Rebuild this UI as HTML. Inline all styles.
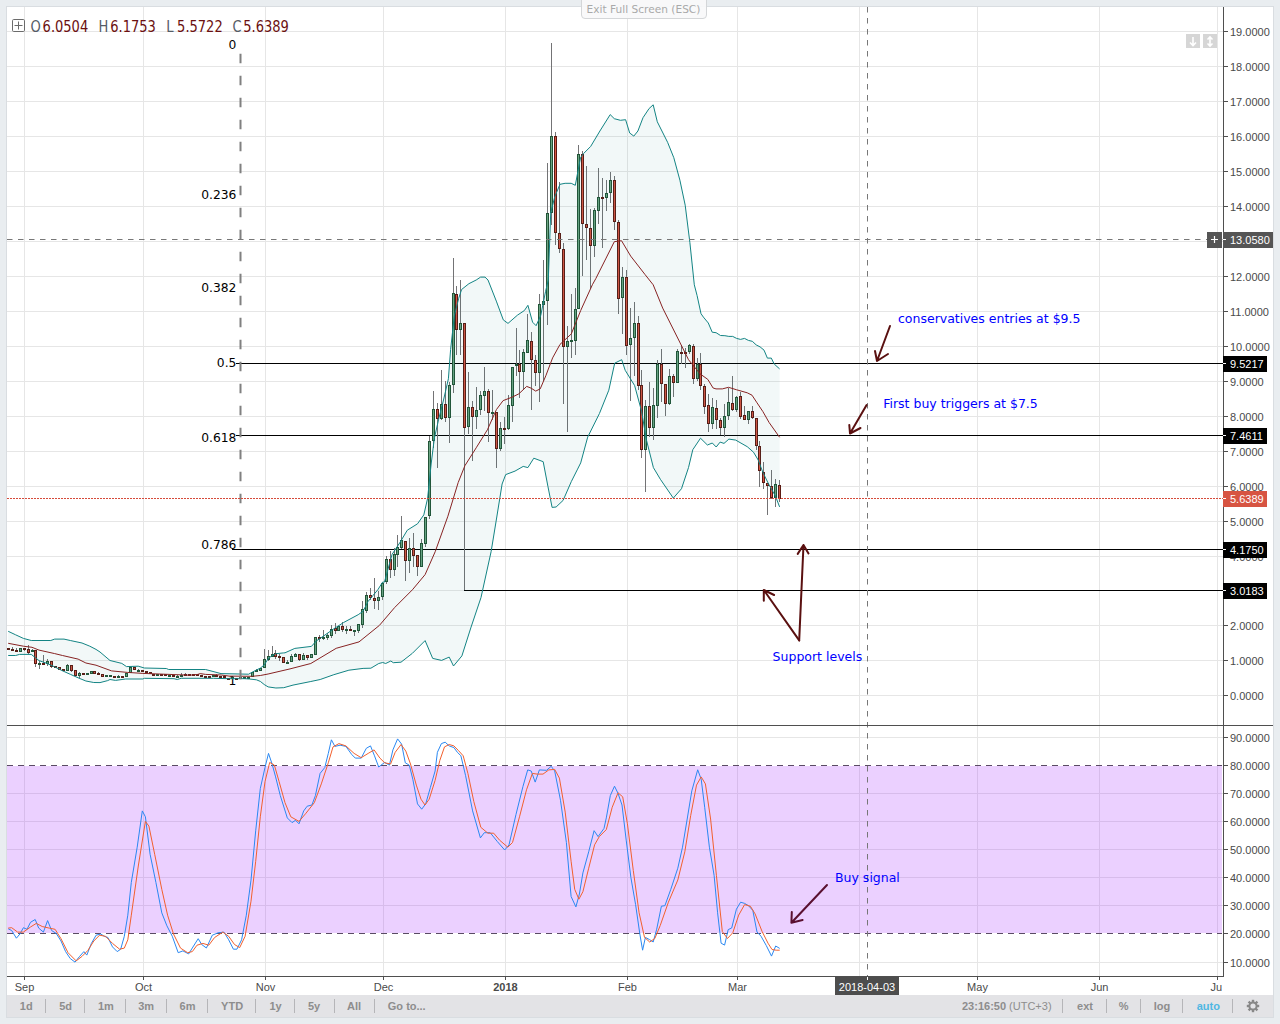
<!DOCTYPE html>
<html><head><meta charset="utf-8"><title>Chart</title>
<style>html,body{margin:0;padding:0;width:1280px;height:1024px;overflow:hidden;background:#e9edf0}</style>
</head><body>
<svg width="1280" height="1024" viewBox="0 0 1280 1024" style="position:absolute;left:0;top:0">
<rect x="0" y="0" width="1280" height="1024" fill="#e9edf0"/>
<rect x="6" y="6" width="1268" height="1012" fill="#d9dde1"/>
<rect x="7" y="7" width="1266" height="988" fill="#ffffff"/>
<rect x="7" y="995" width="1266" height="22" fill="#e3e3e6"/>
<rect x="7" y="31" width="1216" height="1" fill="#e6e6e6"/><rect x="7" y="66" width="1216" height="1" fill="#e6e6e6"/><rect x="7" y="101" width="1216" height="1" fill="#e6e6e6"/><rect x="7" y="136" width="1216" height="1" fill="#e6e6e6"/><rect x="7" y="171" width="1216" height="1" fill="#e6e6e6"/><rect x="7" y="206" width="1216" height="1" fill="#e6e6e6"/><rect x="7" y="241" width="1216" height="1" fill="#e6e6e6"/><rect x="7" y="276" width="1216" height="1" fill="#e6e6e6"/><rect x="7" y="311" width="1216" height="1" fill="#e6e6e6"/><rect x="7" y="346" width="1216" height="1" fill="#e6e6e6"/><rect x="7" y="381" width="1216" height="1" fill="#e6e6e6"/><rect x="7" y="416" width="1216" height="1" fill="#e6e6e6"/><rect x="7" y="451" width="1216" height="1" fill="#e6e6e6"/><rect x="7" y="486" width="1216" height="1" fill="#e6e6e6"/><rect x="7" y="521" width="1216" height="1" fill="#e6e6e6"/><rect x="7" y="556" width="1216" height="1" fill="#e6e6e6"/><rect x="7" y="590" width="1216" height="1" fill="#e6e6e6"/><rect x="7" y="625" width="1216" height="1" fill="#e6e6e6"/><rect x="7" y="660" width="1216" height="1" fill="#e6e6e6"/><rect x="7" y="695" width="1216" height="1" fill="#e6e6e6"/><rect x="7" y="737" width="1216" height="1" fill="#e6e6e6"/><rect x="7" y="793" width="1216" height="1" fill="#e6e6e6"/><rect x="7" y="821" width="1216" height="1" fill="#e6e6e6"/><rect x="7" y="849" width="1216" height="1" fill="#e6e6e6"/><rect x="7" y="877" width="1216" height="1" fill="#e6e6e6"/><rect x="7" y="905" width="1216" height="1" fill="#e6e6e6"/><rect x="7" y="962" width="1216" height="1" fill="#e6e6e6"/><rect x="24" y="7" width="1" height="718" fill="#e6e6e6"/><rect x="24" y="726" width="1" height="250" fill="#e6e6e6"/><rect x="143" y="7" width="1" height="718" fill="#e6e6e6"/><rect x="143" y="726" width="1" height="250" fill="#e6e6e6"/><rect x="265" y="7" width="1" height="718" fill="#e6e6e6"/><rect x="265" y="726" width="1" height="250" fill="#e6e6e6"/><rect x="383" y="7" width="1" height="718" fill="#e6e6e6"/><rect x="383" y="726" width="1" height="250" fill="#e6e6e6"/><rect x="505" y="7" width="1" height="718" fill="#e6e6e6"/><rect x="505" y="726" width="1" height="250" fill="#e6e6e6"/><rect x="627" y="7" width="1" height="718" fill="#e6e6e6"/><rect x="627" y="726" width="1" height="250" fill="#e6e6e6"/><rect x="737" y="7" width="1" height="718" fill="#e6e6e6"/><rect x="737" y="726" width="1" height="250" fill="#e6e6e6"/><rect x="859" y="7" width="1" height="718" fill="#e6e6e6"/><rect x="859" y="726" width="1" height="250" fill="#e6e6e6"/><rect x="977" y="7" width="1" height="718" fill="#e6e6e6"/><rect x="977" y="726" width="1" height="250" fill="#e6e6e6"/><rect x="1099" y="7" width="1" height="718" fill="#e6e6e6"/><rect x="1099" y="726" width="1" height="250" fill="#e6e6e6"/><rect x="1217" y="7" width="1" height="718" fill="#e6e6e6"/><rect x="1217" y="726" width="1" height="250" fill="#e6e6e6"/>
<rect x="7" y="766" width="1215" height="167" fill="rgb(153,21,255)" fill-opacity="0.2"/>
<line x1="7" y1="765.5" x2="1222" y2="765.5" stroke="#5a4b64" stroke-width="1" stroke-dasharray="6 5"/>
<line x1="7" y1="933.5" x2="1222" y2="933.5" stroke="#5a4b64" stroke-width="1" stroke-dasharray="6 5"/>
<text x="236.4" y="49" text-anchor="end" font-family="DejaVu Sans, Verdana, sans-serif" font-size="12.3" fill="#000">0</text>
<text x="236.4" y="199.1" text-anchor="end" font-family="DejaVu Sans, Verdana, sans-serif" font-size="12.3" fill="#000">0.236</text>
<text x="236.4" y="291.95" text-anchor="end" font-family="DejaVu Sans, Verdana, sans-serif" font-size="12.3" fill="#000">0.382</text>
<text x="236.4" y="367" text-anchor="end" font-family="DejaVu Sans, Verdana, sans-serif" font-size="12.3" fill="#000">0.5</text>
<text x="236.4" y="442.05" text-anchor="end" font-family="DejaVu Sans, Verdana, sans-serif" font-size="12.3" fill="#000">0.618</text>
<text x="236.4" y="548.9" text-anchor="end" font-family="DejaVu Sans, Verdana, sans-serif" font-size="12.3" fill="#000">0.786</text>
<text x="236.4" y="685" text-anchor="end" font-family="DejaVu Sans, Verdana, sans-serif" font-size="12.3" fill="#000">1</text>
<g shape-rendering="crispEdges">
<rect x="236" y="363" width="987" height="1" fill="#000"/>
<rect x="236" y="435" width="987" height="1" fill="#000"/>
<rect x="232" y="549" width="991" height="1" fill="#000"/>
<rect x="464" y="590" width="759" height="1" fill="#000"/>
</g>
<g shape-rendering="crispEdges"><rect x="8" y="648" width="1" height="2" fill="#737375"/><rect x="7" y="648" width="3" height="2" fill="#5b1a13"/><rect x="12" y="647" width="1" height="3" fill="#737375"/><rect x="11" y="649" width="3" height="2" fill="#5b1a13"/><rect x="16" y="648" width="1" height="4" fill="#737375"/><rect x="15" y="650" width="3" height="2" fill="#5b1a13"/><rect x="20" y="648" width="1" height="4" fill="#737375"/><rect x="19" y="648" width="3" height="4" fill="#225437"/><rect x="20" y="649" width="1" height="2" fill="#6ba583"/><rect x="24" y="648" width="1" height="3" fill="#737375"/><rect x="23" y="648" width="3" height="2" fill="#5b1a13"/><rect x="28" y="645" width="1" height="9" fill="#737375"/><rect x="27" y="649" width="3" height="4" fill="#5b1a13"/><rect x="28" y="650" width="1" height="2" fill="#d75442"/><rect x="32" y="649" width="1" height="3" fill="#737375"/><rect x="31" y="650" width="3" height="2" fill="#225437"/><rect x="35" y="650" width="1" height="17" fill="#737375"/><rect x="34" y="650" width="3" height="14" fill="#5b1a13"/><rect x="35" y="651" width="1" height="12" fill="#d75442"/><rect x="39" y="661" width="1" height="8" fill="#737375"/><rect x="38" y="663" width="3" height="2" fill="#225437"/><rect x="43" y="655" width="1" height="9" fill="#737375"/><rect x="42" y="663" width="3" height="2" fill="#5b1a13"/><rect x="47" y="659" width="1" height="7" fill="#737375"/><rect x="46" y="661" width="3" height="3" fill="#225437"/><rect x="47" y="662" width="1" height="1" fill="#6ba583"/><rect x="51" y="661" width="1" height="7" fill="#737375"/><rect x="50" y="661" width="3" height="6" fill="#5b1a13"/><rect x="51" y="662" width="1" height="4" fill="#d75442"/><rect x="55" y="666" width="1" height="2" fill="#737375"/><rect x="54" y="666" width="3" height="2" fill="#5b1a13"/><rect x="59" y="667" width="1" height="3" fill="#737375"/><rect x="58" y="667" width="3" height="3" fill="#5b1a13"/><rect x="59" y="668" width="1" height="1" fill="#d75442"/><rect x="63" y="669" width="1" height="2" fill="#737375"/><rect x="62" y="669" width="3" height="2" fill="#5b1a13"/><rect x="67" y="664" width="1" height="7" fill="#737375"/><rect x="66" y="665" width="3" height="6" fill="#225437"/><rect x="67" y="666" width="1" height="4" fill="#6ba583"/><rect x="71" y="665" width="1" height="7" fill="#737375"/><rect x="70" y="665" width="3" height="6" fill="#5b1a13"/><rect x="71" y="666" width="1" height="4" fill="#d75442"/><rect x="75" y="670" width="1" height="6" fill="#737375"/><rect x="74" y="670" width="3" height="6" fill="#5b1a13"/><rect x="75" y="671" width="1" height="4" fill="#d75442"/><rect x="79" y="672" width="1" height="6" fill="#737375"/><rect x="78" y="673" width="3" height="3" fill="#225437"/><rect x="79" y="674" width="1" height="1" fill="#6ba583"/><rect x="83" y="673" width="1" height="1" fill="#737375"/><rect x="82" y="673" width="3" height="2" fill="#5b1a13"/><rect x="87" y="673" width="1" height="1" fill="#737375"/><rect x="86" y="673" width="3" height="2" fill="#225437"/><rect x="91" y="671" width="1" height="3" fill="#737375"/><rect x="90" y="671" width="3" height="3" fill="#225437"/><rect x="91" y="672" width="1" height="1" fill="#6ba583"/><rect x="94" y="671" width="1" height="3" fill="#737375"/><rect x="93" y="671" width="3" height="3" fill="#5b1a13"/><rect x="94" y="672" width="1" height="1" fill="#d75442"/><rect x="98" y="672" width="1" height="3" fill="#737375"/><rect x="97" y="673" width="3" height="2" fill="#5b1a13"/><rect x="102" y="674" width="1" height="3" fill="#737375"/><rect x="101" y="674" width="3" height="3" fill="#5b1a13"/><rect x="102" y="675" width="1" height="1" fill="#d75442"/><rect x="106" y="675" width="1" height="2" fill="#737375"/><rect x="105" y="675" width="3" height="2" fill="#225437"/><rect x="110" y="675" width="1" height="1" fill="#737375"/><rect x="109" y="675" width="3" height="2" fill="#225437"/><rect x="114" y="676" width="1" height="1" fill="#737375"/><rect x="113" y="676" width="3" height="2" fill="#5b1a13"/><rect x="118" y="675" width="1" height="2" fill="#737375"/><rect x="117" y="676" width="3" height="2" fill="#225437"/><rect x="122" y="676" width="1" height="1" fill="#737375"/><rect x="121" y="676" width="3" height="2" fill="#5b1a13"/><rect x="126" y="673" width="1" height="4" fill="#737375"/><rect x="125" y="673" width="3" height="4" fill="#225437"/><rect x="126" y="674" width="1" height="2" fill="#6ba583"/><rect x="130" y="667" width="1" height="6" fill="#737375"/><rect x="129" y="667" width="3" height="6" fill="#225437"/><rect x="130" y="668" width="1" height="4" fill="#6ba583"/><rect x="134" y="667" width="1" height="3" fill="#737375"/><rect x="133" y="667" width="3" height="3" fill="#5b1a13"/><rect x="134" y="668" width="1" height="1" fill="#d75442"/><rect x="138" y="669" width="1" height="1" fill="#737375"/><rect x="137" y="670" width="3" height="2" fill="#225437"/><rect x="142" y="670" width="1" height="1" fill="#737375"/><rect x="141" y="670" width="3" height="2" fill="#5b1a13"/><rect x="146" y="671" width="1" height="2" fill="#737375"/><rect x="145" y="671" width="3" height="2" fill="#5b1a13"/><rect x="150" y="672" width="1" height="1" fill="#737375"/><rect x="149" y="672" width="3" height="2" fill="#5b1a13"/><rect x="152" y="674" width="3" height="2" fill="#5b1a13"/><rect x="156" y="674" width="3" height="2" fill="#225437"/><rect x="160" y="674" width="3" height="2" fill="#5b1a13"/><rect x="165" y="674" width="1" height="2" fill="#737375"/><rect x="164" y="674" width="3" height="2" fill="#5b1a13"/><rect x="169" y="675" width="1" height="1" fill="#737375"/><rect x="168" y="675" width="3" height="2" fill="#225437"/><rect x="173" y="675" width="1" height="2" fill="#737375"/><rect x="172" y="675" width="3" height="2" fill="#5b1a13"/><rect x="177" y="675" width="1" height="2" fill="#737375"/><rect x="176" y="676" width="3" height="2" fill="#225437"/><rect x="181" y="673" width="1" height="4" fill="#737375"/><rect x="180" y="675" width="3" height="2" fill="#225437"/><rect x="185" y="673" width="1" height="2" fill="#737375"/><rect x="184" y="674" width="3" height="2" fill="#5b1a13"/><rect x="189" y="674" width="1" height="2" fill="#737375"/><rect x="188" y="674" width="3" height="2" fill="#5b1a13"/><rect x="193" y="674" width="1" height="2" fill="#737375"/><rect x="192" y="674" width="3" height="2" fill="#5b1a13"/><rect x="197" y="674" width="1" height="2" fill="#737375"/><rect x="196" y="674" width="3" height="2" fill="#5b1a13"/><rect x="201" y="675" width="1" height="2" fill="#737375"/><rect x="200" y="675" width="3" height="2" fill="#5b1a13"/><rect x="205" y="676" width="1" height="1" fill="#737375"/><rect x="204" y="676" width="3" height="2" fill="#5b1a13"/><rect x="209" y="676" width="1" height="1" fill="#737375"/><rect x="208" y="676" width="3" height="2" fill="#5b1a13"/><rect x="213" y="675" width="1" height="2" fill="#737375"/><rect x="212" y="675" width="3" height="2" fill="#225437"/><rect x="216" y="674" width="1" height="3" fill="#737375"/><rect x="215" y="675" width="3" height="2" fill="#5b1a13"/><rect x="220" y="676" width="1" height="1" fill="#737375"/><rect x="219" y="676" width="3" height="2" fill="#5b1a13"/><rect x="224" y="676" width="1" height="1" fill="#737375"/><rect x="223" y="676" width="3" height="2" fill="#5b1a13"/><rect x="227" y="678" width="3" height="2" fill="#5b1a13"/><rect x="232" y="677" width="1" height="1" fill="#737375"/><rect x="231" y="677" width="3" height="2" fill="#225437"/><rect x="235" y="678" width="3" height="2" fill="#5b1a13"/><rect x="240" y="677" width="1" height="1" fill="#737375"/><rect x="239" y="677" width="3" height="2" fill="#225437"/><rect x="244" y="677" width="1" height="1" fill="#737375"/><rect x="243" y="677" width="3" height="2" fill="#225437"/><rect x="248" y="677" width="1" height="1" fill="#737375"/><rect x="247" y="677" width="3" height="2" fill="#225437"/><rect x="252" y="672" width="1" height="5" fill="#737375"/><rect x="251" y="672" width="3" height="5" fill="#225437"/><rect x="252" y="673" width="1" height="3" fill="#6ba583"/><rect x="256" y="669" width="1" height="3" fill="#737375"/><rect x="255" y="670" width="3" height="2" fill="#225437"/><rect x="260" y="668" width="1" height="3" fill="#737375"/><rect x="259" y="668" width="3" height="3" fill="#225437"/><rect x="260" y="669" width="1" height="1" fill="#6ba583"/><rect x="264" y="649" width="1" height="19" fill="#737375"/><rect x="263" y="659" width="3" height="9" fill="#225437"/><rect x="264" y="660" width="1" height="7" fill="#6ba583"/><rect x="268" y="650" width="1" height="11" fill="#737375"/><rect x="267" y="656" width="3" height="4" fill="#225437"/><rect x="268" y="657" width="1" height="2" fill="#6ba583"/><rect x="272" y="646" width="1" height="11" fill="#737375"/><rect x="271" y="654" width="3" height="3" fill="#225437"/><rect x="272" y="655" width="1" height="1" fill="#6ba583"/><rect x="275" y="650" width="1" height="9" fill="#737375"/><rect x="274" y="653" width="3" height="4" fill="#5b1a13"/><rect x="275" y="654" width="1" height="2" fill="#d75442"/><rect x="279" y="654" width="1" height="7" fill="#737375"/><rect x="278" y="656" width="3" height="2" fill="#5b1a13"/><rect x="283" y="657" width="1" height="6" fill="#737375"/><rect x="282" y="657" width="3" height="6" fill="#5b1a13"/><rect x="283" y="658" width="1" height="4" fill="#d75442"/><rect x="287" y="660" width="1" height="4" fill="#737375"/><rect x="286" y="662" width="3" height="2" fill="#225437"/><rect x="291" y="654" width="1" height="8" fill="#737375"/><rect x="290" y="656" width="3" height="6" fill="#225437"/><rect x="291" y="657" width="1" height="4" fill="#6ba583"/><rect x="295" y="653" width="1" height="4" fill="#737375"/><rect x="294" y="654" width="3" height="3" fill="#225437"/><rect x="295" y="655" width="1" height="1" fill="#6ba583"/><rect x="299" y="654" width="1" height="7" fill="#737375"/><rect x="298" y="654" width="3" height="6" fill="#5b1a13"/><rect x="299" y="655" width="1" height="4" fill="#d75442"/><rect x="303" y="653" width="1" height="7" fill="#737375"/><rect x="302" y="655" width="3" height="5" fill="#225437"/><rect x="303" y="656" width="1" height="3" fill="#6ba583"/><rect x="307" y="655" width="1" height="5" fill="#737375"/><rect x="306" y="655" width="3" height="3" fill="#5b1a13"/><rect x="307" y="656" width="1" height="1" fill="#d75442"/><rect x="311" y="654" width="1" height="4" fill="#737375"/><rect x="310" y="654" width="3" height="4" fill="#225437"/><rect x="311" y="655" width="1" height="2" fill="#6ba583"/><rect x="315" y="637" width="1" height="18" fill="#737375"/><rect x="314" y="637" width="3" height="18" fill="#225437"/><rect x="315" y="638" width="1" height="16" fill="#6ba583"/><rect x="319" y="635" width="1" height="7" fill="#737375"/><rect x="318" y="637" width="3" height="2" fill="#5b1a13"/><rect x="323" y="630" width="1" height="10" fill="#737375"/><rect x="322" y="637" width="3" height="2" fill="#225437"/><rect x="327" y="633" width="1" height="7" fill="#737375"/><rect x="326" y="635" width="3" height="3" fill="#225437"/><rect x="327" y="636" width="1" height="1" fill="#6ba583"/><rect x="331" y="625" width="1" height="13" fill="#737375"/><rect x="330" y="629" width="3" height="7" fill="#225437"/><rect x="331" y="630" width="1" height="5" fill="#6ba583"/><rect x="335" y="623" width="1" height="11" fill="#737375"/><rect x="334" y="628" width="3" height="3" fill="#5b1a13"/><rect x="335" y="629" width="1" height="1" fill="#d75442"/><rect x="338" y="626" width="1" height="5" fill="#737375"/><rect x="337" y="626" width="3" height="5" fill="#225437"/><rect x="338" y="627" width="1" height="3" fill="#6ba583"/><rect x="342" y="622" width="1" height="10" fill="#737375"/><rect x="341" y="626" width="3" height="4" fill="#5b1a13"/><rect x="342" y="627" width="1" height="2" fill="#d75442"/><rect x="346" y="626" width="1" height="8" fill="#737375"/><rect x="345" y="629" width="3" height="2" fill="#225437"/><rect x="350" y="626" width="1" height="5" fill="#737375"/><rect x="349" y="629" width="3" height="2" fill="#5b1a13"/><rect x="354" y="630" width="1" height="6" fill="#737375"/><rect x="353" y="630" width="3" height="2" fill="#225437"/><rect x="358" y="624" width="1" height="9" fill="#737375"/><rect x="357" y="624" width="3" height="7" fill="#225437"/><rect x="358" y="625" width="1" height="5" fill="#6ba583"/><rect x="362" y="601" width="1" height="27" fill="#737375"/><rect x="361" y="609" width="3" height="16" fill="#225437"/><rect x="362" y="610" width="1" height="14" fill="#6ba583"/><rect x="366" y="592" width="1" height="21" fill="#737375"/><rect x="365" y="595" width="3" height="16" fill="#225437"/><rect x="366" y="596" width="1" height="14" fill="#6ba583"/><rect x="370" y="588" width="1" height="12" fill="#737375"/><rect x="369" y="595" width="3" height="3" fill="#5b1a13"/><rect x="370" y="596" width="1" height="1" fill="#d75442"/><rect x="374" y="578" width="1" height="31" fill="#737375"/><rect x="373" y="598" width="3" height="3" fill="#5b1a13"/><rect x="374" y="599" width="1" height="1" fill="#d75442"/><rect x="378" y="591" width="1" height="19" fill="#737375"/><rect x="377" y="597" width="3" height="4" fill="#225437"/><rect x="378" y="598" width="1" height="2" fill="#6ba583"/><rect x="382" y="583" width="1" height="17" fill="#737375"/><rect x="381" y="583" width="3" height="14" fill="#225437"/><rect x="382" y="584" width="1" height="12" fill="#6ba583"/><rect x="386" y="556" width="1" height="28" fill="#737375"/><rect x="385" y="559" width="3" height="23" fill="#225437"/><rect x="386" y="560" width="1" height="21" fill="#6ba583"/><rect x="390" y="551" width="1" height="27" fill="#737375"/><rect x="389" y="559" width="3" height="11" fill="#5b1a13"/><rect x="390" y="560" width="1" height="9" fill="#d75442"/><rect x="394" y="548" width="1" height="28" fill="#737375"/><rect x="393" y="554" width="3" height="16" fill="#225437"/><rect x="394" y="555" width="1" height="14" fill="#6ba583"/><rect x="397" y="535" width="1" height="32" fill="#737375"/><rect x="396" y="547" width="3" height="8" fill="#225437"/><rect x="397" y="548" width="1" height="6" fill="#6ba583"/><rect x="401" y="516" width="1" height="33" fill="#737375"/><rect x="400" y="540" width="3" height="8" fill="#225437"/><rect x="401" y="541" width="1" height="6" fill="#6ba583"/><rect x="405" y="541" width="1" height="40" fill="#737375"/><rect x="404" y="541" width="3" height="20" fill="#5b1a13"/><rect x="405" y="542" width="1" height="18" fill="#d75442"/><rect x="409" y="538" width="1" height="35" fill="#737375"/><rect x="408" y="548" width="3" height="13" fill="#225437"/><rect x="409" y="549" width="1" height="11" fill="#6ba583"/><rect x="413" y="533" width="1" height="34" fill="#737375"/><rect x="412" y="548" width="3" height="8" fill="#5b1a13"/><rect x="413" y="549" width="1" height="6" fill="#d75442"/><rect x="417" y="555" width="1" height="21" fill="#737375"/><rect x="416" y="555" width="3" height="12" fill="#5b1a13"/><rect x="417" y="556" width="1" height="10" fill="#d75442"/><rect x="421" y="539" width="1" height="28" fill="#737375"/><rect x="420" y="543" width="3" height="24" fill="#225437"/><rect x="421" y="544" width="1" height="22" fill="#6ba583"/><rect x="425" y="517" width="1" height="30" fill="#737375"/><rect x="424" y="517" width="3" height="27" fill="#225437"/><rect x="425" y="518" width="1" height="25" fill="#6ba583"/><rect x="429" y="436" width="1" height="83" fill="#737375"/><rect x="428" y="441" width="3" height="75" fill="#225437"/><rect x="429" y="442" width="1" height="73" fill="#6ba583"/><rect x="433" y="391" width="1" height="57" fill="#737375"/><rect x="432" y="409" width="3" height="32" fill="#225437"/><rect x="433" y="410" width="1" height="30" fill="#6ba583"/><rect x="437" y="403" width="1" height="65" fill="#737375"/><rect x="436" y="409" width="3" height="10" fill="#5b1a13"/><rect x="437" y="410" width="1" height="8" fill="#d75442"/><rect x="441" y="370" width="1" height="50" fill="#737375"/><rect x="440" y="404" width="3" height="15" fill="#225437"/><rect x="441" y="405" width="1" height="13" fill="#6ba583"/><rect x="445" y="381" width="1" height="41" fill="#737375"/><rect x="444" y="404" width="3" height="14" fill="#5b1a13"/><rect x="445" y="405" width="1" height="12" fill="#d75442"/><rect x="449" y="382" width="1" height="61" fill="#737375"/><rect x="448" y="385" width="3" height="33" fill="#225437"/><rect x="449" y="386" width="1" height="31" fill="#6ba583"/><rect x="453" y="258" width="1" height="135" fill="#737375"/><rect x="452" y="293" width="3" height="92" fill="#225437"/><rect x="453" y="294" width="1" height="90" fill="#6ba583"/><rect x="456" y="286" width="1" height="69" fill="#737375"/><rect x="455" y="294" width="3" height="36" fill="#5b1a13"/><rect x="456" y="295" width="1" height="34" fill="#d75442"/><rect x="460" y="280" width="1" height="75" fill="#737375"/><rect x="459" y="323" width="3" height="7" fill="#225437"/><rect x="460" y="324" width="1" height="5" fill="#6ba583"/><rect x="464" y="323" width="1" height="267" fill="#737375"/><rect x="463" y="323" width="3" height="105" fill="#5b1a13"/><rect x="464" y="324" width="1" height="103" fill="#d75442"/><rect x="468" y="372" width="1" height="62" fill="#737375"/><rect x="467" y="407" width="3" height="20" fill="#225437"/><rect x="468" y="408" width="1" height="18" fill="#6ba583"/><rect x="472" y="401" width="1" height="60" fill="#737375"/><rect x="471" y="407" width="3" height="10" fill="#5b1a13"/><rect x="472" y="408" width="1" height="8" fill="#d75442"/><rect x="476" y="387" width="1" height="42" fill="#737375"/><rect x="475" y="410" width="3" height="7" fill="#225437"/><rect x="476" y="411" width="1" height="5" fill="#6ba583"/><rect x="480" y="391" width="1" height="24" fill="#737375"/><rect x="479" y="395" width="3" height="15" fill="#225437"/><rect x="480" y="396" width="1" height="13" fill="#6ba583"/><rect x="484" y="367" width="1" height="44" fill="#737375"/><rect x="483" y="391" width="3" height="5" fill="#225437"/><rect x="484" y="392" width="1" height="3" fill="#6ba583"/><rect x="488" y="389" width="1" height="53" fill="#737375"/><rect x="487" y="391" width="3" height="22" fill="#5b1a13"/><rect x="488" y="392" width="1" height="20" fill="#d75442"/><rect x="492" y="390" width="1" height="30" fill="#737375"/><rect x="491" y="412" width="3" height="2" fill="#225437"/><rect x="496" y="412" width="1" height="56" fill="#737375"/><rect x="495" y="412" width="3" height="37" fill="#5b1a13"/><rect x="496" y="413" width="1" height="35" fill="#d75442"/><rect x="500" y="422" width="1" height="29" fill="#737375"/><rect x="499" y="428" width="3" height="21" fill="#225437"/><rect x="500" y="429" width="1" height="19" fill="#6ba583"/><rect x="504" y="417" width="1" height="27" fill="#737375"/><rect x="503" y="428" width="3" height="2" fill="#5b1a13"/><rect x="508" y="395" width="1" height="35" fill="#737375"/><rect x="507" y="405" width="3" height="24" fill="#225437"/><rect x="508" y="406" width="1" height="22" fill="#6ba583"/><rect x="512" y="367" width="1" height="55" fill="#737375"/><rect x="511" y="367" width="3" height="39" fill="#225437"/><rect x="512" y="368" width="1" height="37" fill="#6ba583"/><rect x="516" y="328" width="1" height="48" fill="#737375"/><rect x="515" y="364" width="3" height="2" fill="#225437"/><rect x="519" y="350" width="1" height="48" fill="#737375"/><rect x="518" y="364" width="3" height="8" fill="#5b1a13"/><rect x="519" y="365" width="1" height="6" fill="#d75442"/><rect x="523" y="349" width="1" height="41" fill="#737375"/><rect x="522" y="352" width="3" height="20" fill="#225437"/><rect x="523" y="353" width="1" height="18" fill="#6ba583"/><rect x="527" y="314" width="1" height="39" fill="#737375"/><rect x="526" y="340" width="3" height="13" fill="#225437"/><rect x="527" y="341" width="1" height="11" fill="#6ba583"/><rect x="531" y="332" width="1" height="78" fill="#737375"/><rect x="530" y="341" width="3" height="19" fill="#5b1a13"/><rect x="531" y="342" width="1" height="17" fill="#d75442"/><rect x="535" y="355" width="1" height="31" fill="#737375"/><rect x="534" y="360" width="3" height="13" fill="#5b1a13"/><rect x="535" y="361" width="1" height="11" fill="#d75442"/><rect x="539" y="294" width="1" height="108" fill="#737375"/><rect x="538" y="304" width="3" height="69" fill="#225437"/><rect x="539" y="305" width="1" height="67" fill="#6ba583"/><rect x="543" y="260" width="1" height="121" fill="#737375"/><rect x="542" y="301" width="3" height="4" fill="#225437"/><rect x="543" y="302" width="1" height="2" fill="#6ba583"/><rect x="547" y="163" width="1" height="162" fill="#737375"/><rect x="546" y="213" width="3" height="88" fill="#225437"/><rect x="547" y="214" width="1" height="86" fill="#6ba583"/><rect x="551" y="43" width="1" height="182" fill="#737375"/><rect x="550" y="136" width="3" height="77" fill="#225437"/><rect x="551" y="137" width="1" height="75" fill="#6ba583"/><rect x="555" y="132" width="1" height="113" fill="#737375"/><rect x="554" y="136" width="3" height="97" fill="#5b1a13"/><rect x="555" y="137" width="1" height="95" fill="#d75442"/><rect x="559" y="182" width="1" height="71" fill="#737375"/><rect x="558" y="233" width="3" height="16" fill="#5b1a13"/><rect x="559" y="234" width="1" height="14" fill="#d75442"/><rect x="563" y="243" width="1" height="161" fill="#737375"/><rect x="562" y="249" width="3" height="98" fill="#5b1a13"/><rect x="563" y="250" width="1" height="96" fill="#d75442"/><rect x="567" y="326" width="1" height="106" fill="#737375"/><rect x="566" y="341" width="3" height="6" fill="#225437"/><rect x="567" y="342" width="1" height="4" fill="#6ba583"/><rect x="571" y="294" width="1" height="64" fill="#737375"/><rect x="570" y="340" width="3" height="2" fill="#225437"/><rect x="575" y="288" width="1" height="67" fill="#737375"/><rect x="574" y="309" width="3" height="32" fill="#225437"/><rect x="575" y="310" width="1" height="30" fill="#6ba583"/><rect x="578" y="145" width="1" height="164" fill="#737375"/><rect x="577" y="154" width="3" height="155" fill="#225437"/><rect x="578" y="155" width="1" height="153" fill="#6ba583"/><rect x="582" y="151" width="1" height="125" fill="#737375"/><rect x="581" y="154" width="3" height="70" fill="#5b1a13"/><rect x="582" y="155" width="1" height="68" fill="#d75442"/><rect x="586" y="166" width="1" height="94" fill="#737375"/><rect x="585" y="224" width="3" height="4" fill="#5b1a13"/><rect x="586" y="225" width="1" height="2" fill="#d75442"/><rect x="590" y="209" width="1" height="80" fill="#737375"/><rect x="589" y="228" width="3" height="18" fill="#5b1a13"/><rect x="590" y="229" width="1" height="16" fill="#d75442"/><rect x="594" y="208" width="1" height="49" fill="#737375"/><rect x="593" y="210" width="3" height="36" fill="#225437"/><rect x="594" y="211" width="1" height="34" fill="#6ba583"/><rect x="598" y="168" width="1" height="56" fill="#737375"/><rect x="597" y="197" width="3" height="14" fill="#225437"/><rect x="598" y="198" width="1" height="12" fill="#6ba583"/><rect x="602" y="178" width="1" height="70" fill="#737375"/><rect x="601" y="197" width="3" height="2" fill="#5b1a13"/><rect x="606" y="180" width="1" height="31" fill="#737375"/><rect x="605" y="193" width="3" height="5" fill="#225437"/><rect x="606" y="194" width="1" height="3" fill="#6ba583"/><rect x="610" y="172" width="1" height="31" fill="#737375"/><rect x="609" y="180" width="3" height="13" fill="#225437"/><rect x="610" y="181" width="1" height="11" fill="#6ba583"/><rect x="614" y="176" width="1" height="54" fill="#737375"/><rect x="613" y="180" width="3" height="42" fill="#5b1a13"/><rect x="614" y="181" width="1" height="40" fill="#d75442"/><rect x="618" y="220" width="1" height="94" fill="#737375"/><rect x="617" y="222" width="3" height="77" fill="#5b1a13"/><rect x="618" y="223" width="1" height="75" fill="#d75442"/><rect x="622" y="267" width="1" height="67" fill="#737375"/><rect x="621" y="277" width="3" height="21" fill="#225437"/><rect x="622" y="278" width="1" height="19" fill="#6ba583"/><rect x="626" y="270" width="1" height="85" fill="#737375"/><rect x="625" y="277" width="3" height="69" fill="#5b1a13"/><rect x="626" y="278" width="1" height="67" fill="#d75442"/><rect x="630" y="308" width="1" height="93" fill="#737375"/><rect x="629" y="338" width="3" height="7" fill="#225437"/><rect x="630" y="339" width="1" height="5" fill="#6ba583"/><rect x="634" y="302" width="1" height="74" fill="#737375"/><rect x="633" y="323" width="3" height="15" fill="#225437"/><rect x="634" y="324" width="1" height="13" fill="#6ba583"/><rect x="638" y="316" width="1" height="74" fill="#737375"/><rect x="637" y="323" width="3" height="63" fill="#5b1a13"/><rect x="638" y="324" width="1" height="61" fill="#d75442"/><rect x="641" y="370" width="1" height="88" fill="#737375"/><rect x="640" y="385" width="3" height="65" fill="#5b1a13"/><rect x="641" y="386" width="1" height="63" fill="#d75442"/><rect x="645" y="400" width="1" height="92" fill="#737375"/><rect x="644" y="406" width="3" height="44" fill="#225437"/><rect x="645" y="407" width="1" height="42" fill="#6ba583"/><rect x="649" y="382" width="1" height="55" fill="#737375"/><rect x="648" y="406" width="3" height="22" fill="#5b1a13"/><rect x="649" y="407" width="1" height="20" fill="#d75442"/><rect x="653" y="388" width="1" height="52" fill="#737375"/><rect x="652" y="405" width="3" height="23" fill="#225437"/><rect x="653" y="406" width="1" height="21" fill="#6ba583"/><rect x="657" y="360" width="1" height="58" fill="#737375"/><rect x="656" y="364" width="3" height="42" fill="#225437"/><rect x="657" y="365" width="1" height="40" fill="#6ba583"/><rect x="661" y="349" width="1" height="53" fill="#737375"/><rect x="660" y="364" width="3" height="20" fill="#5b1a13"/><rect x="661" y="365" width="1" height="18" fill="#d75442"/><rect x="665" y="384" width="1" height="32" fill="#737375"/><rect x="664" y="384" width="3" height="20" fill="#5b1a13"/><rect x="665" y="385" width="1" height="18" fill="#d75442"/><rect x="669" y="369" width="1" height="36" fill="#737375"/><rect x="668" y="376" width="3" height="28" fill="#225437"/><rect x="669" y="377" width="1" height="26" fill="#6ba583"/><rect x="673" y="374" width="1" height="23" fill="#737375"/><rect x="672" y="376" width="3" height="7" fill="#5b1a13"/><rect x="673" y="377" width="1" height="5" fill="#d75442"/><rect x="677" y="349" width="1" height="34" fill="#737375"/><rect x="676" y="351" width="3" height="32" fill="#225437"/><rect x="677" y="352" width="1" height="30" fill="#6ba583"/><rect x="681" y="345" width="1" height="19" fill="#737375"/><rect x="680" y="352" width="3" height="2" fill="#5b1a13"/><rect x="685" y="348" width="1" height="20" fill="#737375"/><rect x="684" y="352" width="3" height="2" fill="#5b1a13"/><rect x="689" y="344" width="1" height="10" fill="#737375"/><rect x="688" y="345" width="3" height="7" fill="#225437"/><rect x="689" y="346" width="1" height="5" fill="#6ba583"/><rect x="693" y="344" width="1" height="40" fill="#737375"/><rect x="692" y="346" width="3" height="33" fill="#5b1a13"/><rect x="693" y="347" width="1" height="31" fill="#d75442"/><rect x="697" y="358" width="1" height="23" fill="#737375"/><rect x="696" y="364" width="3" height="15" fill="#225437"/><rect x="697" y="365" width="1" height="13" fill="#6ba583"/><rect x="700" y="353" width="1" height="37" fill="#737375"/><rect x="699" y="364" width="3" height="22" fill="#5b1a13"/><rect x="700" y="365" width="1" height="20" fill="#d75442"/><rect x="704" y="384" width="1" height="30" fill="#737375"/><rect x="703" y="386" width="3" height="21" fill="#5b1a13"/><rect x="704" y="387" width="1" height="19" fill="#d75442"/><rect x="708" y="394" width="1" height="38" fill="#737375"/><rect x="707" y="405" width="3" height="19" fill="#5b1a13"/><rect x="708" y="406" width="1" height="17" fill="#d75442"/><rect x="712" y="398" width="1" height="31" fill="#737375"/><rect x="711" y="407" width="3" height="17" fill="#225437"/><rect x="712" y="408" width="1" height="15" fill="#6ba583"/><rect x="716" y="400" width="1" height="29" fill="#737375"/><rect x="715" y="408" width="3" height="12" fill="#5b1a13"/><rect x="716" y="409" width="1" height="10" fill="#d75442"/><rect x="720" y="418" width="1" height="17" fill="#737375"/><rect x="719" y="420" width="3" height="8" fill="#5b1a13"/><rect x="720" y="421" width="1" height="6" fill="#d75442"/><rect x="724" y="404" width="1" height="33" fill="#737375"/><rect x="723" y="416" width="3" height="12" fill="#225437"/><rect x="724" y="417" width="1" height="10" fill="#6ba583"/><rect x="728" y="388" width="1" height="32" fill="#737375"/><rect x="727" y="402" width="3" height="14" fill="#225437"/><rect x="728" y="403" width="1" height="12" fill="#6ba583"/><rect x="732" y="376" width="1" height="35" fill="#737375"/><rect x="731" y="403" width="3" height="7" fill="#5b1a13"/><rect x="732" y="404" width="1" height="5" fill="#d75442"/><rect x="736" y="396" width="1" height="16" fill="#737375"/><rect x="735" y="397" width="3" height="13" fill="#225437"/><rect x="736" y="398" width="1" height="11" fill="#6ba583"/><rect x="740" y="392" width="1" height="27" fill="#737375"/><rect x="739" y="396" width="3" height="21" fill="#5b1a13"/><rect x="740" y="397" width="1" height="19" fill="#d75442"/><rect x="744" y="406" width="1" height="14" fill="#737375"/><rect x="743" y="415" width="3" height="5" fill="#5b1a13"/><rect x="744" y="416" width="1" height="3" fill="#d75442"/><rect x="748" y="411" width="1" height="13" fill="#737375"/><rect x="747" y="411" width="3" height="9" fill="#225437"/><rect x="748" y="412" width="1" height="7" fill="#6ba583"/><rect x="752" y="406" width="1" height="13" fill="#737375"/><rect x="751" y="411" width="3" height="7" fill="#5b1a13"/><rect x="752" y="412" width="1" height="5" fill="#d75442"/><rect x="756" y="418" width="1" height="32" fill="#737375"/><rect x="755" y="418" width="3" height="28" fill="#5b1a13"/><rect x="756" y="419" width="1" height="26" fill="#d75442"/><rect x="759" y="441" width="1" height="46" fill="#737375"/><rect x="758" y="446" width="3" height="25" fill="#5b1a13"/><rect x="759" y="447" width="1" height="23" fill="#d75442"/><rect x="763" y="462" width="1" height="27" fill="#737375"/><rect x="762" y="472" width="3" height="11" fill="#5b1a13"/><rect x="763" y="473" width="1" height="9" fill="#d75442"/><rect x="767" y="483" width="1" height="32" fill="#737375"/><rect x="766" y="483" width="3" height="3" fill="#5b1a13"/><rect x="767" y="484" width="1" height="1" fill="#d75442"/><rect x="771" y="470" width="1" height="29" fill="#737375"/><rect x="770" y="486" width="3" height="12" fill="#5b1a13"/><rect x="771" y="487" width="1" height="10" fill="#d75442"/><rect x="775" y="479" width="1" height="28" fill="#737375"/><rect x="774" y="484" width="3" height="14" fill="#225437"/><rect x="775" y="485" width="1" height="12" fill="#6ba583"/><rect x="779" y="480" width="1" height="22" fill="#737375"/><rect x="778" y="485" width="3" height="14" fill="#5b1a13"/><rect x="779" y="486" width="1" height="12" fill="#d75442"/></g>
<polygon points="8.2,631.3 15.6,634.8 23.4,638.4 31.25,640.5 39,640.5 50.8,640.5 54.7,639.1 64,639.1 70.3,640.5 82,643 89.8,646.2 96,649.4 100,652 110,660.5 121.8,663.4 126.5,666.6 138.2,666.2 144.4,668 166.3,668.5 168.7,669.5 205.6,669.5 221,673.6 248.6,674.2 252.5,672 256.4,670 260.3,668.1 264.2,665 268.1,658.75 272,655.6 275.9,653.7 283.75,652.9 285,652.8 294.8,648.4 311.4,646.4 316.25,641 324,635.7 333.8,628.8 343.6,622.5 358.2,614.7 363.1,611.25 368,601.5 372.9,595.6 377.8,589.8 382.7,582 384.4,582.2 392.1,554.3 399.7,542.9 407.3,530.2 417.5,523.8 423.8,514.9 427.6,498.4 431.25,463 434.4,438 439,417.8 443.75,399 448.4,378.75 450.6,349.6 454.3,315.9 458.7,298.3 461.6,289.5 468.9,283.7 476.2,280 480.6,277.1 485,277.1 488,280 496.3,301.1 503.3,319.9 508,323.4 517.4,315.2 524.4,310.5 527.9,305.3 532.6,322.2 536.1,325.7 540.8,315.2 545.5,291.7 548.3,280 550.7,213 554.8,196.6 560,184.3 565.1,183.3 571.2,183.3 575.3,185.3 577.8,172 580.5,157.7 583.5,153.6 590.7,146.4 599.9,131 610.2,114.6 614.3,118.7 620.4,120.3 625.6,119.7 629.7,133 633.8,136.1 637.9,131 643,117.7 649.1,108.5 653.2,104.8 657.3,121.8 667.6,142.3 673.8,157.7 679.9,180.2 685.2,205.2 689.9,242.7 694.3,284.8 697.1,295.6 701,313.7 703.4,317.1 708.3,323 712.2,332.2 716.1,332.7 720.5,335.5 724.9,335.7 728.8,336.4 732.7,336.4 736.6,338.4 740.5,339.4 744.5,338.4 748.4,340.4 752.3,341.3 756.2,344.9 760.1,346.9 764,350.1 767.4,358.1 771.3,358.1 774.2,364 779.6,368.9 779.6,506.9 775.4,496 769.1,485 762.9,472.5 758.2,460 753.5,452.2 747.25,446.7 735.7,440.1 728.9,439.1 724,443.4 720.1,442.1 716.2,447 712.3,443 707.4,445 700.5,438.2 692.8,449.7 688.5,467.6 681.5,488.7 673.3,498.1 660.4,479.3 653.4,467.6 646.3,439.4 641.6,411.3 634.6,385.5 625.2,370.3 621.7,359.7 614.7,363.2 608.8,390.2 599.4,413.6 587.7,437.1 580.7,462.9 577.2,469.9 571.3,481.6 563.1,500.4 556.1,507 552.1,507.4 547.9,486.3 543.2,461.7 533.8,458.2 527.9,467.6 523.2,466.4 515,471.1 505.7,474.6 502.1,484 496.3,520 491.1,551.7 481,597.5 470.8,627.9 461.9,655.9 453.5,666 449.2,657.1 441.6,660.4 432.7,658.4 425.1,640.6 412.4,653.3 401,662.2 393.3,662.7 390.8,661 385.7,663.5 382.7,662.5 378.75,663.5 370.9,668.2 363.1,668.4 348.9,670.2 333.8,674.7 320.2,679.5 310.8,681.5 293,685.1 283.75,687.7 275.9,688 268.1,686.9 264.2,684.5 260.3,681.4 256.4,679.8 249.4,679 244.7,678.7 229,678.7 213.4,678.3 196,678.3 181.2,678.3 177.25,679.5 174,678.7 144.4,678.3 142.9,679 125.7,679 115.5,680.4 110,679.5 107.7,680.6 100,682.6 93.75,682.5 85.9,681 78.1,677.8 70.3,674.3 62.5,670.8 54.7,666.9 46.9,663.4 39,660.6 35.2,657.5 31.25,654.4 19.5,654.4 15.6,655.5 8.2,655.5" fill="rgb(25,135,135)" fill-opacity="0.055" stroke="none"/>
<polyline points="8.2,631.3 15.6,634.8 23.4,638.4 31.25,640.5 39,640.5 50.8,640.5 54.7,639.1 64,639.1 70.3,640.5 82,643 89.8,646.2 96,649.4 100,652 110,660.5 121.8,663.4 126.5,666.6 138.2,666.2 144.4,668 166.3,668.5 168.7,669.5 205.6,669.5 221,673.6 248.6,674.2 252.5,672 256.4,670 260.3,668.1 264.2,665 268.1,658.75 272,655.6 275.9,653.7 283.75,652.9 285,652.8 294.8,648.4 311.4,646.4 316.25,641 324,635.7 333.8,628.8 343.6,622.5 358.2,614.7 363.1,611.25 368,601.5 372.9,595.6 377.8,589.8 382.7,582 384.4,582.2 392.1,554.3 399.7,542.9 407.3,530.2 417.5,523.8 423.8,514.9 427.6,498.4 431.25,463 434.4,438 439,417.8 443.75,399 448.4,378.75 450.6,349.6 454.3,315.9 458.7,298.3 461.6,289.5 468.9,283.7 476.2,280 480.6,277.1 485,277.1 488,280 496.3,301.1 503.3,319.9 508,323.4 517.4,315.2 524.4,310.5 527.9,305.3 532.6,322.2 536.1,325.7 540.8,315.2 545.5,291.7 548.3,280 550.7,213 554.8,196.6 560,184.3 565.1,183.3 571.2,183.3 575.3,185.3 577.8,172 580.5,157.7 583.5,153.6 590.7,146.4 599.9,131 610.2,114.6 614.3,118.7 620.4,120.3 625.6,119.7 629.7,133 633.8,136.1 637.9,131 643,117.7 649.1,108.5 653.2,104.8 657.3,121.8 667.6,142.3 673.8,157.7 679.9,180.2 685.2,205.2 689.9,242.7 694.3,284.8 697.1,295.6 701,313.7 703.4,317.1 708.3,323 712.2,332.2 716.1,332.7 720.5,335.5 724.9,335.7 728.8,336.4 732.7,336.4 736.6,338.4 740.5,339.4 744.5,338.4 748.4,340.4 752.3,341.3 756.2,344.9 760.1,346.9 764,350.1 767.4,358.1 771.3,358.1 774.2,364 779.6,368.9" fill="none" stroke="#138484" stroke-width="1"/>
<polyline points="8.2,655.5 15.6,655.5 19.5,654.4 31.25,654.4 35.2,657.5 39,660.6 46.9,663.4 54.7,666.9 62.5,670.8 70.3,674.3 78.1,677.8 85.9,681 93.75,682.5 100,682.6 107.7,680.6 110,679.5 115.5,680.4 125.7,679 142.9,679 144.4,678.3 174,678.7 177.25,679.5 181.2,678.3 196,678.3 213.4,678.3 229,678.7 244.7,678.7 249.4,679 256.4,679.8 260.3,681.4 264.2,684.5 268.1,686.9 275.9,688 283.75,687.7 293,685.1 310.8,681.5 320.2,679.5 333.8,674.7 348.9,670.2 363.1,668.4 370.9,668.2 378.75,663.5 382.7,662.5 385.7,663.5 390.8,661 393.3,662.7 401,662.2 412.4,653.3 425.1,640.6 432.7,658.4 441.6,660.4 449.2,657.1 453.5,666 461.9,655.9 470.8,627.9 481,597.5 491.1,551.7 496.3,520 502.1,484 505.7,474.6 515,471.1 523.2,466.4 527.9,467.6 533.8,458.2 543.2,461.7 547.9,486.3 552.1,507.4 556.1,507 563.1,500.4 571.3,481.6 577.2,469.9 580.7,462.9 587.7,437.1 599.4,413.6 608.8,390.2 614.7,363.2 621.7,359.7 625.2,370.3 634.6,385.5 641.6,411.3 646.3,439.4 653.4,467.6 660.4,479.3 673.3,498.1 681.5,488.7 688.5,467.6 692.8,449.7 700.5,438.2 707.4,445 712.3,443 716.2,447 720.1,442.1 724,443.4 728.9,439.1 735.7,440.1 747.25,446.7 753.5,452.2 758.2,460 762.9,472.5 769.1,485 775.4,496 779.6,506.9" fill="none" stroke="#138484" stroke-width="1"/>
<polyline points="8.2,643.3 23.4,646.2 32,647.3 39,650.1 54.7,653.6 62.5,655.5 78.1,659.1 85.9,663 96,665.2 111.6,670.9 127.25,672.4 142.9,673.4 190,675.2 197.8,674.4 200.2,673.6 205.6,674.4 221.25,675 229,676.1 252.5,676.3 260.3,675.5 268.1,674 290,668.9 310.8,663.5 336.2,648.3 359,641.9 379.4,625.4 394.6,607.6 412.4,589.8 425.1,574.6 435.2,551.7 447.9,516.2 458.2,482.5 464.9,465.7 476.2,447.8 487.4,429.8 496.4,409.6 503.1,400.6 512.1,397.2 518.9,393.8 526.7,386.4 531.2,388.2 535.7,391.1 540.2,388.9 545.8,375.8 552.6,357.9 560,344.4 571.3,333.9 580.7,310.5 592.4,284.7 595.8,278.6 606.1,258.1 614.3,241.7 621.5,240.7 630.7,256.1 645,274.5 653.2,284.8 662.7,308.1 679.2,341 688.5,359.7 700,373.8 707.8,379.4 713.1,388 716,388.9 722.3,388.9 728.5,387.3 736.3,389.7 747.25,392.8 752,395.2 756.6,402.2 762.9,411.6 769.1,422.5 779.6,437.3" fill="none" stroke="#872323" stroke-width="1"/>
<line x1="240.5" y1="53.75" x2="240.5" y2="680" stroke="#808080" stroke-width="2" stroke-dasharray="9.5 12.5"/>
<line x1="7" y1="498.5" x2="1223" y2="498.5" stroke="#d64a3a" stroke-width="1" stroke-dasharray="2 1"/>
<line x1="7" y1="239.5" x2="1223" y2="239.5" stroke="#777" stroke-width="1" stroke-dasharray="5.5 5.5"/>
<line x1="867.5" y1="7" x2="867.5" y2="976" stroke="#777" stroke-width="1" stroke-dasharray="5.5 5.5"/>
<polyline points="8.2,928.8 11.7,930.5 16.4,938.2 19.9,934 23.4,927.7 27,929.3 30.5,922.3 35.2,919.5 38.7,928.1 43.4,932.1 47.6,920.6 51.6,930.5 56.3,933.5 61,941 65.6,951.6 70.3,958.6 75,962.1 79.7,956.3 83.9,951.6 86.8,955.1 91.4,943.4 96.1,935.2 100.8,934 104.3,936.3 107.9,937.5 112.5,946.9 117.2,951.6 120.7,949.2 124.3,936.3 127.8,915.2 131.3,882.4 137.2,847.2 142.3,810.9 145.4,816.8 150.1,854.3 155.9,882.4 161.8,912.9 166.9,925.8 172.3,936.3 178.2,952.7 182.9,950.9 188.7,953.9 192.3,948 198.2,938.7 201.7,944.5 206.4,948 212.3,935.2 218.1,932.8 224,932.1 228.7,939.8 233.4,949.2 236.9,949.2 241.6,939.8 246.3,915.2 251,880.1 255.7,830.8 260.3,788.6 265,767.5 268.5,753.4 272.1,764 275.6,776.9 280.3,795.6 287.3,817.9 292,822.6 295.5,820.3 299,823.8 303.7,810.9 307.2,806.2 311.9,805 315.4,795.6 320.1,773.4 324.8,767.5 328.3,753.4 331.4,739.8 334.9,746.4 340.1,745.2 345.9,746.4 351.8,754.6 355.3,758.1 361.2,758.1 366.3,748.3 370.5,745.9 374.5,755.8 378.7,767 384.7,762.4 389.4,765.2 392.9,749.9 397.6,738.9 401.6,744.1 405.3,762.8 409.3,765.2 412.8,779.2 417.5,803.9 421.7,809.2 425.7,803.9 430.4,787.4 435.1,771 437.4,752.3 441.4,743.6 445.2,742.2 449.2,745.9 453.9,747.6 457.4,752.3 460.9,755.8 465.6,775.7 472.6,810.9 480.4,837.9 484.3,832.7 490.2,832.7 497.2,841.4 504.7,850 509,844.9 516,814.4 523,786.3 527.7,769.9 531.2,771 535.2,782.1 539.4,769.9 546.5,770.3 551.2,766.3 554.7,771 560.5,800.3 566.4,842.5 571.1,896.5 575.9,906.9 579.4,894 582.9,872.9 588.7,851.8 594.1,830.7 598.1,836.6 604,828.4 606.3,817.9 610.3,795.6 614.5,786.2 618,793.3 622,805 626.2,840.1 630.9,877.6 635.6,904.6 639.8,933.8 642.6,950.2 645.4,937.4 649.7,939.7 653.2,942 656.7,929.2 661.4,906.2 664.9,905.7 670.8,889.3 677.8,868.2 682.5,847.2 687.2,819 691.8,790.9 697.7,769.8 701.2,779.2 704.7,807.3 709.4,847.2 714.1,875.3 717.6,912.8 721.1,943.2 724.6,945.1 728.2,929.6 731.7,928 736.4,909.2 740.6,902.2 744.6,903.4 748.5,905.7 752.8,910.4 757,932 761,936.2 766.3,945.6 771.5,956.1 775.7,946 779.7,948.4" fill="none" stroke="#2a88f2" stroke-width="1" stroke-linejoin="round"/>
<polyline points="8.2,928.1 11.7,927.7 17.6,932.1 23.4,932.1 30.5,927 36.3,923.4 42.2,926.5 49.2,928.1 55.1,929.3 61,938.7 68,952.7 76.2,960.9 82.1,956.3 87.9,950.4 93.8,941 99.6,935.2 105.5,936.3 112.5,943.4 119.6,949.2 124.3,948.1 127.8,939.8 131.3,915.2 138.3,866 145.4,821.4 148.9,826.1 154.7,854.3 161.8,889.4 167.6,915.2 173.5,934 180.5,948.1 187.6,952.7 192.3,951.6 197,945.2 202.9,943.4 208.8,945.2 214.6,937.5 222.8,932.1 228.7,936.3 234.5,944.5 239.7,947.6 245.1,936.3 251,901.2 255.7,861.3 260.3,816.8 265,781.6 269.7,762.4 274.4,765.2 279.1,781.6 285,802.7 290.8,816.8 299,821.4 306,813.2 314.3,802.7 321.3,783.9 328.3,762.8 333,746.9 338.9,743.6 345.9,745.9 354.1,753.4 361.2,757.7 368.2,753.4 374.1,749.9 379.9,758.1 384.7,762.8 390.6,764 395.2,752.3 401.1,744.5 405.8,751.1 410.5,764 416.3,785.1 421,799.2 425,805 429.2,799.2 435.1,780.4 439.8,760.5 444.5,746.9 449.2,744.5 453.9,745.9 458.5,750.6 463.2,755.8 467.9,773.4 473.8,801.5 480.8,827.3 487.9,833.2 493.7,833.2 499.6,840.2 507.8,847.2 512.5,842.5 519.5,816.8 526.5,789.8 532.4,773.4 537.1,774.1 543,774.1 548.8,769.9 554.7,769.4 559.4,778.1 565.2,812.1 571.1,861.3 574.7,889.3 578.9,899.2 582.9,891.7 588.7,868.2 594.6,844.8 599.3,836.6 606.3,829.6 612.2,807.3 618,792.8 622.7,796.8 627.4,823.7 633.3,870.6 639.1,912.8 644.5,937.4 649.7,942 654.8,938.5 660.2,925.6 668.4,902.2 677.8,880 684.8,851.8 690.7,815.5 696.5,785.1 701.2,776.9 705.4,783.9 710.6,819 716.4,875.3 722.3,931.5 727.5,938.5 732.8,932.7 738.7,915.1 744.6,904.6 750.4,906.2 755.1,913.9 762.1,931.5 768,943.2 772,949.5 776.2,950.2 779.7,950.2" fill="none" stroke="#f2602e" stroke-width="1" stroke-linejoin="round"/>
<path d="M890,326 L877,361 M875,351 L877,361 L888,354" stroke="#5a1010" stroke-width="2" fill="none" stroke-linecap="round" stroke-linejoin="round"/>
<path d="M866.6,405 L850,433.5 M849.3,425 L850,433.5 L860.5,428" stroke="#5a1010" stroke-width="2" fill="none" stroke-linecap="round" stroke-linejoin="round"/>
<path d="M799.2,640.4 L803.5,545 M797.7,553.9 L803.5,545 L808.5,553.5" stroke="#5a1010" stroke-width="2" fill="none" stroke-linecap="round" stroke-linejoin="round"/>
<path d="M799.2,640.4 L763.8,590 M763.8,600.7 L763.8,590 L774.1,595" stroke="#5a1010" stroke-width="2" fill="none" stroke-linecap="round" stroke-linejoin="round"/>
<path d="M827,885 L791.4,922.7 M791.8,912 L791.4,922.7 L802.6,920" stroke="#5a1030" stroke-width="2" fill="none" stroke-linecap="round" stroke-linejoin="round"/>
<text x="898" y="323" font-family="DejaVu Sans, Verdana, sans-serif" font-size="12.5" fill="#0000ff">conservatives entries at $9.5</text>
<text x="883.2" y="408" font-family="DejaVu Sans, Verdana, sans-serif" font-size="12.5" fill="#0000ff">First buy triggers at $7.5</text>
<text x="772.6" y="660.7" font-family="DejaVu Sans, Verdana, sans-serif" font-size="12.5" fill="#0000ff">Support levels</text>
<text x="835" y="882" font-family="DejaVu Sans, Verdana, sans-serif" font-size="12.5" fill="#0000ff">Buy signal</text>
<g shape-rendering="crispEdges">
<rect x="1223" y="7" width="1" height="970" fill="#4f4f4f"/>
<rect x="7" y="976" width="1217" height="1" fill="#4f4f4f"/>
<rect x="7" y="725" width="1266" height="1" fill="#4f4f4f"/>
<rect x="1224" y="31" width="4" height="1" fill="#4f4f4f"/>
<rect x="1224" y="66" width="4" height="1" fill="#4f4f4f"/>
<rect x="1224" y="101" width="4" height="1" fill="#4f4f4f"/>
<rect x="1224" y="136" width="4" height="1" fill="#4f4f4f"/>
<rect x="1224" y="171" width="4" height="1" fill="#4f4f4f"/>
<rect x="1224" y="206" width="4" height="1" fill="#4f4f4f"/>
<rect x="1224" y="241" width="4" height="1" fill="#4f4f4f"/>
<rect x="1224" y="276" width="4" height="1" fill="#4f4f4f"/>
<rect x="1224" y="311" width="4" height="1" fill="#4f4f4f"/>
<rect x="1224" y="346" width="4" height="1" fill="#4f4f4f"/>
<rect x="1224" y="381" width="4" height="1" fill="#4f4f4f"/>
<rect x="1224" y="416" width="4" height="1" fill="#4f4f4f"/>
<rect x="1224" y="451" width="4" height="1" fill="#4f4f4f"/>
<rect x="1224" y="486" width="4" height="1" fill="#4f4f4f"/>
<rect x="1224" y="521" width="4" height="1" fill="#4f4f4f"/>
<rect x="1224" y="556" width="4" height="1" fill="#4f4f4f"/>
<rect x="1224" y="590" width="4" height="1" fill="#4f4f4f"/>
<rect x="1224" y="625" width="4" height="1" fill="#4f4f4f"/>
<rect x="1224" y="660" width="4" height="1" fill="#4f4f4f"/>
<rect x="1224" y="695" width="4" height="1" fill="#4f4f4f"/>
<rect x="1224" y="737" width="4" height="1" fill="#4f4f4f"/>
<rect x="1224" y="765" width="4" height="1" fill="#4f4f4f"/>
<rect x="1224" y="793" width="4" height="1" fill="#4f4f4f"/>
<rect x="1224" y="821" width="4" height="1" fill="#4f4f4f"/>
<rect x="1224" y="849" width="4" height="1" fill="#4f4f4f"/>
<rect x="1224" y="877" width="4" height="1" fill="#4f4f4f"/>
<rect x="1224" y="905" width="4" height="1" fill="#4f4f4f"/>
<rect x="1224" y="933" width="4" height="1" fill="#4f4f4f"/>
<rect x="1224" y="962" width="4" height="1" fill="#4f4f4f"/>
<rect x="24" y="977" width="1" height="3" fill="#4f4f4f"/>
<rect x="143" y="977" width="1" height="3" fill="#4f4f4f"/>
<rect x="265" y="977" width="1" height="3" fill="#4f4f4f"/>
<rect x="383" y="977" width="1" height="3" fill="#4f4f4f"/>
<rect x="505" y="977" width="1" height="3" fill="#4f4f4f"/>
<rect x="627" y="977" width="1" height="3" fill="#4f4f4f"/>
<rect x="737" y="977" width="1" height="3" fill="#4f4f4f"/>
<rect x="859" y="977" width="1" height="3" fill="#4f4f4f"/>
<rect x="977" y="977" width="1" height="3" fill="#4f4f4f"/>
<rect x="1099" y="977" width="1" height="3" fill="#4f4f4f"/>
<rect x="1217" y="977" width="1" height="3" fill="#4f4f4f"/>
</g>
<text x="1230" y="35.5" font-family="Liberation Sans, Arial, sans-serif" font-size="11" fill="#4a4a4a">19.0000</text>
<text x="1230" y="70.5" font-family="Liberation Sans, Arial, sans-serif" font-size="11" fill="#4a4a4a">18.0000</text>
<text x="1230" y="105.5" font-family="Liberation Sans, Arial, sans-serif" font-size="11" fill="#4a4a4a">17.0000</text>
<text x="1230" y="140.5" font-family="Liberation Sans, Arial, sans-serif" font-size="11" fill="#4a4a4a">16.0000</text>
<text x="1230" y="175.5" font-family="Liberation Sans, Arial, sans-serif" font-size="11" fill="#4a4a4a">15.0000</text>
<text x="1230" y="210.5" font-family="Liberation Sans, Arial, sans-serif" font-size="11" fill="#4a4a4a">14.0000</text>
<text x="1230" y="245.5" font-family="Liberation Sans, Arial, sans-serif" font-size="11" fill="#4a4a4a">13.0000</text>
<text x="1230" y="280.5" font-family="Liberation Sans, Arial, sans-serif" font-size="11" fill="#4a4a4a">12.0000</text>
<text x="1230" y="315.5" font-family="Liberation Sans, Arial, sans-serif" font-size="11" fill="#4a4a4a">11.0000</text>
<text x="1230" y="350.5" font-family="Liberation Sans, Arial, sans-serif" font-size="11" fill="#4a4a4a">10.0000</text>
<text x="1230" y="385.5" font-family="Liberation Sans, Arial, sans-serif" font-size="11" fill="#4a4a4a">9.0000</text>
<text x="1230" y="420.5" font-family="Liberation Sans, Arial, sans-serif" font-size="11" fill="#4a4a4a">8.0000</text>
<text x="1230" y="455.5" font-family="Liberation Sans, Arial, sans-serif" font-size="11" fill="#4a4a4a">7.0000</text>
<text x="1230" y="490.5" font-family="Liberation Sans, Arial, sans-serif" font-size="11" fill="#4a4a4a">6.0000</text>
<text x="1230" y="525.5" font-family="Liberation Sans, Arial, sans-serif" font-size="11" fill="#4a4a4a">5.0000</text>
<text x="1230" y="560.5" font-family="Liberation Sans, Arial, sans-serif" font-size="11" fill="#4a4a4a">4.0000</text>
<text x="1230" y="594.5" font-family="Liberation Sans, Arial, sans-serif" font-size="11" fill="#4a4a4a">3.0000</text>
<text x="1230" y="629.5" font-family="Liberation Sans, Arial, sans-serif" font-size="11" fill="#4a4a4a">2.0000</text>
<text x="1230" y="664.5" font-family="Liberation Sans, Arial, sans-serif" font-size="11" fill="#4a4a4a">1.0000</text>
<text x="1230" y="699.5" font-family="Liberation Sans, Arial, sans-serif" font-size="11" fill="#4a4a4a">0.0000</text>
<text x="1230" y="741.5" font-family="Liberation Sans, Arial, sans-serif" font-size="11" fill="#4a4a4a">90.0000</text>
<text x="1230" y="769.5" font-family="Liberation Sans, Arial, sans-serif" font-size="11" fill="#4a4a4a">80.0000</text>
<text x="1230" y="797.5" font-family="Liberation Sans, Arial, sans-serif" font-size="11" fill="#4a4a4a">70.0000</text>
<text x="1230" y="825.5" font-family="Liberation Sans, Arial, sans-serif" font-size="11" fill="#4a4a4a">60.0000</text>
<text x="1230" y="853.5" font-family="Liberation Sans, Arial, sans-serif" font-size="11" fill="#4a4a4a">50.0000</text>
<text x="1230" y="881.5" font-family="Liberation Sans, Arial, sans-serif" font-size="11" fill="#4a4a4a">40.0000</text>
<text x="1230" y="909.5" font-family="Liberation Sans, Arial, sans-serif" font-size="11" fill="#4a4a4a">30.0000</text>
<text x="1230" y="937.5" font-family="Liberation Sans, Arial, sans-serif" font-size="11" fill="#4a4a4a">20.0000</text>
<text x="1230" y="966.5" font-family="Liberation Sans, Arial, sans-serif" font-size="11" fill="#4a4a4a">10.0000</text>
<clipPath id="tclip"><rect x="7" y="977" width="1215" height="18"/></clipPath>
<text x="24.5" y="991" clip-path="url(#tclip)" font-family="Liberation Sans, Arial, sans-serif" font-size="11" fill="#4a4a4a" text-anchor="middle">Sep</text>
<text x="143.5" y="991" clip-path="url(#tclip)" font-family="Liberation Sans, Arial, sans-serif" font-size="11" fill="#4a4a4a" text-anchor="middle">Oct</text>
<text x="265.5" y="991" clip-path="url(#tclip)" font-family="Liberation Sans, Arial, sans-serif" font-size="11" fill="#4a4a4a" text-anchor="middle">Nov</text>
<text x="383.5" y="991" clip-path="url(#tclip)" font-family="Liberation Sans, Arial, sans-serif" font-size="11" fill="#4a4a4a" text-anchor="middle">Dec</text>
<text x="505.5" y="991" clip-path="url(#tclip)" font-family="Liberation Sans, Arial, sans-serif" font-size="11" fill="#4a4a4a" text-anchor="middle" font-weight="bold">2018</text>
<text x="627.5" y="991" clip-path="url(#tclip)" font-family="Liberation Sans, Arial, sans-serif" font-size="11" fill="#4a4a4a" text-anchor="middle">Feb</text>
<text x="737.5" y="991" clip-path="url(#tclip)" font-family="Liberation Sans, Arial, sans-serif" font-size="11" fill="#4a4a4a" text-anchor="middle">Mar</text>
<text x="977.5" y="991" clip-path="url(#tclip)" font-family="Liberation Sans, Arial, sans-serif" font-size="11" fill="#4a4a4a" text-anchor="middle">May</text>
<text x="1099.5" y="991" clip-path="url(#tclip)" font-family="Liberation Sans, Arial, sans-serif" font-size="11" fill="#4a4a4a" text-anchor="middle">Jun</text>
<text x="1217.5" y="991" clip-path="url(#tclip)" font-family="Liberation Sans, Arial, sans-serif" font-size="11" fill="#4a4a4a" text-anchor="middle">Jul</text>
<rect x="1223" y="232" width="50" height="16" fill="#555555" shape-rendering="crispEdges"/>
<rect x="1223" y="239" width="3" height="1" fill="#fff" shape-rendering="crispEdges"/>
<text x="1230" y="244" font-family="Liberation Sans, Arial, sans-serif" font-size="11" fill="#fff">13.0580</text>
<rect x="1223" y="356" width="44" height="16" fill="#000000" shape-rendering="crispEdges"/>
<rect x="1223" y="363" width="3" height="1" fill="#fff" shape-rendering="crispEdges"/>
<text x="1230" y="368" font-family="Liberation Sans, Arial, sans-serif" font-size="11" fill="#fff">9.5217</text>
<rect x="1223" y="428" width="44" height="16" fill="#000000" shape-rendering="crispEdges"/>
<rect x="1223" y="435" width="3" height="1" fill="#fff" shape-rendering="crispEdges"/>
<text x="1230" y="440" font-family="Liberation Sans, Arial, sans-serif" font-size="11" fill="#fff">7.4611</text>
<rect x="1223" y="491" width="44" height="16" fill="#d75442" shape-rendering="crispEdges"/>
<rect x="1223" y="498" width="3" height="1" fill="#fff" shape-rendering="crispEdges"/>
<text x="1230" y="503" font-family="Liberation Sans, Arial, sans-serif" font-size="11" fill="#fff">5.6389</text>
<rect x="1223" y="542" width="44" height="16" fill="#000000" shape-rendering="crispEdges"/>
<rect x="1223" y="549" width="3" height="1" fill="#fff" shape-rendering="crispEdges"/>
<text x="1230" y="554" font-family="Liberation Sans, Arial, sans-serif" font-size="11" fill="#fff">4.1750</text>
<rect x="1223" y="583" width="44" height="16" fill="#000000" shape-rendering="crispEdges"/>
<rect x="1223" y="590" width="3" height="1" fill="#fff" shape-rendering="crispEdges"/>
<text x="1230" y="595" font-family="Liberation Sans, Arial, sans-serif" font-size="11" fill="#fff">3.0183</text>
<rect x="1207" y="232" width="15" height="16" fill="#555555" shape-rendering="crispEdges"/>
<path d="M1211,239.5 H1218 M1214.5,236 V243" stroke="#fff" stroke-width="1.2"/>
<rect x="835" y="977" width="64" height="18" fill="#4d4d4d" shape-rendering="crispEdges"/>
<rect x="867" y="977" width="1" height="3" fill="#fff" shape-rendering="crispEdges"/>
<text x="867" y="990.5" text-anchor="middle" font-family="Liberation Sans, Arial, sans-serif" font-size="11" fill="#fff">2018-04-03</text>
<rect x="1186" y="34" width="14" height="14" fill="#d6d6d6"/>
<path d="M1193,37 V45 M1190,42.5 L1193,45.5 L1196,42.5" stroke="#fff" stroke-width="1.6" fill="none"/>
<rect x="1203" y="34" width="14" height="14" fill="#d6d6d6"/>
<path d="M1210,37 V46 M1207.5,39.5 L1210,37 L1212.5,39.5 M1207.5,43.5 L1210,46 L1212.5,43.5" stroke="#fff" stroke-width="1.6" fill="none"/>
<rect x="12.5" y="19.5" width="12" height="12" fill="none" stroke="#6b6b6b" stroke-width="1" rx="1.2"/>
<path d="M14.5,25.5 H22.5 M18.5,21.5 V29.5" stroke="#6b6b6b" stroke-width="1"/>
<text x="30.6" y="31.7" font-family="DejaVu Sans Condensed, DejaVu Sans, sans-serif" font-size="15.3" fill="#555c66" textLength="10.3" lengthAdjust="spacingAndGlyphs">O</text>
<text x="42.6" y="31.7" font-family="DejaVu Sans Condensed, DejaVu Sans, sans-serif" font-size="15.3" fill="#6b1010" textLength="45.6" lengthAdjust="spacingAndGlyphs">6.0504</text>
<text x="98.5" y="31.7" font-family="DejaVu Sans Condensed, DejaVu Sans, sans-serif" font-size="15.3" fill="#555c66" textLength="9.8" lengthAdjust="spacingAndGlyphs">H</text>
<text x="110.3" y="31.7" font-family="DejaVu Sans Condensed, DejaVu Sans, sans-serif" font-size="15.3" fill="#6b1010" textLength="45.6" lengthAdjust="spacingAndGlyphs">6.1753</text>
<text x="166.3" y="31.7" font-family="DejaVu Sans Condensed, DejaVu Sans, sans-serif" font-size="15.3" fill="#555c66" textLength="7.3" lengthAdjust="spacingAndGlyphs">L</text>
<text x="177.1" y="31.7" font-family="DejaVu Sans Condensed, DejaVu Sans, sans-serif" font-size="15.3" fill="#6b1010" textLength="45.6" lengthAdjust="spacingAndGlyphs">5.5722</text>
<text x="232.6" y="31.7" font-family="DejaVu Sans Condensed, DejaVu Sans, sans-serif" font-size="15.3" fill="#555c66" textLength="9.1" lengthAdjust="spacingAndGlyphs">C</text>
<text x="243.3" y="31.7" font-family="DejaVu Sans Condensed, DejaVu Sans, sans-serif" font-size="15.3" fill="#6b1010" textLength="45.6" lengthAdjust="spacingAndGlyphs">5.6389</text>
<text x="26.25" y="1010" text-anchor="middle" font-family="Liberation Sans, Arial, sans-serif" font-size="11" font-weight="bold" fill="#8d8d8d">1d</text>
<text x="65.6" y="1010" text-anchor="middle" font-family="Liberation Sans, Arial, sans-serif" font-size="11" font-weight="bold" fill="#8d8d8d">5d</text>
<text x="105.9" y="1010" text-anchor="middle" font-family="Liberation Sans, Arial, sans-serif" font-size="11" font-weight="bold" fill="#8d8d8d">1m</text>
<text x="146.1" y="1010" text-anchor="middle" font-family="Liberation Sans, Arial, sans-serif" font-size="11" font-weight="bold" fill="#8d8d8d">3m</text>
<text x="187.5" y="1010" text-anchor="middle" font-family="Liberation Sans, Arial, sans-serif" font-size="11" font-weight="bold" fill="#8d8d8d">6m</text>
<text x="232.1" y="1010" text-anchor="middle" font-family="Liberation Sans, Arial, sans-serif" font-size="11" font-weight="bold" fill="#8d8d8d">YTD</text>
<text x="275.6" y="1010" text-anchor="middle" font-family="Liberation Sans, Arial, sans-serif" font-size="11" font-weight="bold" fill="#8d8d8d">1y</text>
<text x="314" y="1010" text-anchor="middle" font-family="Liberation Sans, Arial, sans-serif" font-size="11" font-weight="bold" fill="#8d8d8d">5y</text>
<text x="354" y="1010" text-anchor="middle" font-family="Liberation Sans, Arial, sans-serif" font-size="11" font-weight="bold" fill="#8d8d8d">All</text>
<text x="406.75" y="1010" text-anchor="middle" font-family="Liberation Sans, Arial, sans-serif" font-size="11" font-weight="bold" fill="#8d8d8d">Go to...</text>
<rect x="45" y="999" width="1" height="14" fill="#b5b5b8"/>
<rect x="84" y="999" width="1" height="14" fill="#b5b5b8"/>
<rect x="125" y="999" width="1" height="14" fill="#b5b5b8"/>
<rect x="166" y="999" width="1" height="14" fill="#b5b5b8"/>
<rect x="207" y="999" width="1" height="14" fill="#b5b5b8"/>
<rect x="255" y="999" width="1" height="14" fill="#b5b5b8"/>
<rect x="294" y="999" width="1" height="14" fill="#b5b5b8"/>
<rect x="334" y="999" width="1" height="14" fill="#b5b5b8"/>
<rect x="374" y="999" width="1" height="14" fill="#b5b5b8"/>
<text x="962" y="1010" font-family="Liberation Sans, Arial, sans-serif" font-size="11" font-weight="bold" fill="#8d8d8d">23:16:50 <tspan font-weight="normal">(UTC+3)</tspan></text>
<text x="1085" y="1010" text-anchor="middle" font-family="Liberation Sans, Arial, sans-serif" font-size="11" font-weight="bold" fill="#8d8d8d">ext</text>
<text x="1123.75" y="1010" text-anchor="middle" font-family="Liberation Sans, Arial, sans-serif" font-size="11" font-weight="bold" fill="#8d8d8d">%</text>
<text x="1162" y="1010" text-anchor="middle" font-family="Liberation Sans, Arial, sans-serif" font-size="11" font-weight="bold" fill="#8d8d8d">log</text>
<text x="1208.3" y="1010" text-anchor="middle" font-family="Liberation Sans, Arial, sans-serif" font-size="11" font-weight="bold" fill="#4fb7e3">auto</text>
<rect x="1062" y="999" width="1" height="14" fill="#b5b5b8"/>
<rect x="1106" y="999" width="1" height="14" fill="#b5b5b8"/>
<rect x="1140" y="999" width="1" height="14" fill="#b5b5b8"/>
<rect x="1182" y="999" width="1" height="14" fill="#b5b5b8"/>
<rect x="1232" y="999" width="1" height="14" fill="#b5b5b8"/>
<rect x="1251.8" y="999.8" width="2.4" height="3" fill="#888" transform="rotate(0 1253 1006)"/><rect x="1251.8" y="999.8" width="2.4" height="3" fill="#888" transform="rotate(45 1253 1006)"/><rect x="1251.8" y="999.8" width="2.4" height="3" fill="#888" transform="rotate(90 1253 1006)"/><rect x="1251.8" y="999.8" width="2.4" height="3" fill="#888" transform="rotate(135 1253 1006)"/><rect x="1251.8" y="999.8" width="2.4" height="3" fill="#888" transform="rotate(180 1253 1006)"/><rect x="1251.8" y="999.8" width="2.4" height="3" fill="#888" transform="rotate(225 1253 1006)"/><rect x="1251.8" y="999.8" width="2.4" height="3" fill="#888" transform="rotate(270 1253 1006)"/><rect x="1251.8" y="999.8" width="2.4" height="3" fill="#888" transform="rotate(315 1253 1006)"/>
<circle cx="1253" cy="1006" r="3.6" fill="none" stroke="#888" stroke-width="2"/>
<path d="M581.5,0 V15 Q581.5,18.5 585,18.5 H703 Q706.5,18.5 706.5,15 V0" fill="#f8f9fa" fill-opacity="0.92" stroke="#d4d6d8" stroke-width="1"/>
<text x="643.5" y="12.8" text-anchor="middle" font-family="DejaVu Sans, Verdana, sans-serif" font-size="10.6" fill="#a9a9a9">Exit Full Screen (ESC)</text>
</svg>
</body></html>
